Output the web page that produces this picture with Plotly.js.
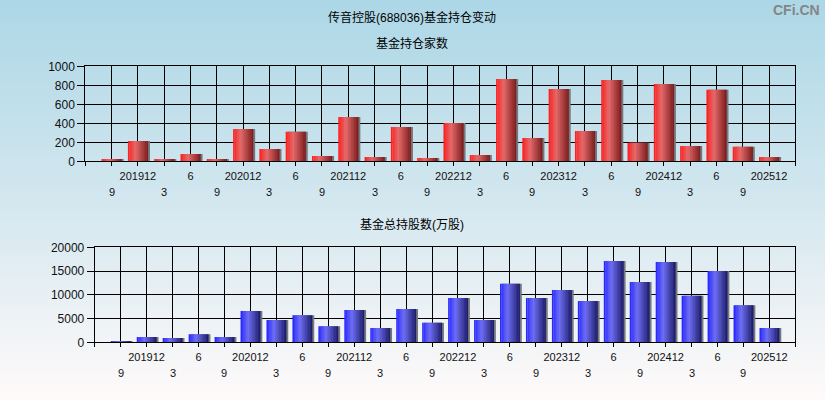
<!DOCTYPE html>
<html><head><meta charset="utf-8">
<script src="https://cdn.plot.ly/plotly-3.0.1.min.js"></script>
<style>
html,body{margin:0;padding:0;}
body{width:825px;height:400px;overflow:hidden;background:linear-gradient(to bottom,#acd7e6 0%,#d3e7ef 50%,#fffafa 100%);}
#chart{width:825px;height:400px;}
</style></head><body><div id="chart"></div>
<script>
// ---- data ----
const periods = ['201909','201912','202003','202006','202009','202012','202103','202106','202109','202112','202203','202206','202209','202212','202303','202306','202309','202312','202403','202406','202409','202412','202503','202506','202509','202512'];
const fundCount = [25, 215, 25, 78, 25, 340, 130, 310, 57, 467, 46, 362, 36, 404, 67, 867, 246, 762, 320, 857, 194, 815, 162, 752, 152, 46];
const fundShares = [250, 1100, 900, 1700, 1100, 6600, 4700, 5700, 3400, 6800, 3000, 7000, 4100, 9300, 4700, 12300, 9300, 11000, 8700, 17100, 12700, 16900, 9800, 15000, 7800, 3000];
const upperLabels = ['', '201912', '', '6', '', '202012', '', '6', '', '202112', '', '6', '', '202212', '', '6', '', '202312', '', '6', '', '202412', '', '6', '', '202512'];
const lowerLabels = ['9', '', '3', '', '9', '', '3', '', '9', '', '3', '', '9', '', '3', '', '9', '', '3', '', '9', '', '3', '', '9', ''];
const mainTitle = '传音控股(688036)基金持仓变动';
const topTitle = '基金持仓家数';
const bottomTitle = '基金总持股数(万股)';

// ---- styling ----
const FONT = '"Liberation Sans", Arial, "Noto Sans CJK SC", sans-serif';
const W = 825, H = 400;
const pos = periods.map((p, i) => i + 1);
const tickvals = [0].concat(pos, [periods.length + 1]);
const ticktext = [''].concat(upperLabels, ['']);

const redStops = [[0, [255, 25, 25]], [0.38, [236, 105, 105]], [1, [125, 25, 25]]];
const blueStops = [[0, [35, 35, 255]], [0.38, [110, 110, 252]], [1, [25, 25, 105]]];
function grad(stops, t) {
  for (let k = 0; k < stops.length - 1; k++) {
    const a = stops[k], b = stops[k + 1];
    if (t <= b[0]) {
      const f = (t - a[0]) / (b[0] - a[0]);
      const c = a[1].map((v, j) => Math.round(v + (b[1][j] - v) * f));
      return 'rgb(' + c.join(',') + ')';
    }
  }
  return 'rgb(' + stops[stops.length - 1][1].join(',') + ')';
}

const BW = 0.76, N = 14;
function barTraces(values, stops, xa, ya) {
  const tr = [];
  tr.push({type: 'bar', x: pos, y: values, xaxis: xa, yaxis: ya, width: BW, offset: -BW / 2 + 0.08,
    marker: {color: 'rgb(118,120,128)', line: {width: 0}}, hoverinfo: 'skip'});
  const sw = BW / N;
  for (let i = 0; i < N; i++) {
    tr.push({type: 'bar', x: pos, y: values, xaxis: xa, yaxis: ya, width: sw * 1.15, offset: -BW / 2 + i * sw,
      marker: {color: grad(stops, (i + 0.5) / N), line: {width: 0}}, hoverinfo: 'skip'});
  }
  return tr;
}

const data = barTraces(fundCount, redStops, 'x', 'y').concat(barTraces(fundShares, blueStops, 'x2', 'y2'));

function xAxis(domain, anchor) {
  return {domain: domain, anchor: anchor, range: [0, periods.length + 1], tickmode: 'array', tickvals: tickvals, ticktext: ticktext,
    ticks: 'outside', ticklen: 4, tickcolor: '#000', showgrid: true, gridcolor: '#000', gridwidth: 1,
    showline: true, linecolor: '#000', linewidth: 1, mirror: true, zeroline: false,
    tickfont: {family: FONT, size: 11, color: '#111'}, fixedrange: true};
}
function yAxis(domain, anchor, max, dtick) {
  return {domain: domain, anchor: anchor, range: [0, max], tickmode: 'linear', tick0: 0, dtick: dtick, tickformat: 'd',
    ticks: 'outside', ticklen: 7, tickcolor: '#000', showgrid: true, gridcolor: '#000', gridwidth: 1,
    showline: true, linecolor: '#000', linewidth: 1, mirror: true, zeroline: false,
    tickfont: {family: FONT, size: 12, color: '#111'}, fixedrange: true};
}

const annotations = [
  {text: mainTitle, x: 411.5 / W, y: 1 - 17.5 / H, xref: 'paper', yref: 'paper', showarrow: false, xanchor: 'center', yanchor: 'middle', font: {family: FONT, size: 12, color: '#000'}},
  {text: topTitle, x: 411.5 / W, y: 1 - 43.3 / H, xref: 'paper', yref: 'paper', showarrow: false, xanchor: 'center', yanchor: 'middle', font: {family: FONT, size: 12, color: '#000'}},
  {text: bottomTitle, x: 411.5 / W, y: 1 - 224 / H, xref: 'paper', yref: 'paper', showarrow: false, xanchor: 'center', yanchor: 'middle', font: {family: FONT, size: 12, color: '#000'}},
  {text: '<b>CFi.CN</b>', x: 822 / W, y: 1 - 10 / H, xref: 'paper', yref: 'paper', showarrow: false, xanchor: 'right', yanchor: 'middle', font: {family: FONT, size: 14, color: '#858585'}}
];
lowerLabels.forEach((t, i) => {
  if (!t) return;
  annotations.push({text: t, x: pos[i], xref: 'x', y: 1 - 192.3 / H, yref: 'paper', showarrow: false, xanchor: 'center', yanchor: 'middle', font: {family: FONT, size: 11, color: '#111'}});
  annotations.push({text: t, x: pos[i], xref: 'x2', y: 1 - 373 / H, yref: 'paper', showarrow: false, xanchor: 'center', yanchor: 'middle', font: {family: FONT, size: 11, color: '#111'}});
});

const layout = {
  width: W, height: H, autosize: false,
  margin: {l: 0, r: 0, t: 0, b: 0, pad: 0},
  paper_bgcolor: 'rgba(0,0,0,0)', plot_bgcolor: 'rgba(0,0,0,0)',
  showlegend: false, barmode: 'overlay', hovermode: false,
  xaxis: xAxis([85.3 / W, 795.3 / W], 'y'),
  yaxis: yAxis([1 - 161.3 / H, 1 - 66.3 / H], 'x', 1000, 200),
  xaxis2: xAxis([94.7 / W, 795.3 / W], 'y2'),
  yaxis2: yAxis([1 - 342.3 / H, 1 - 247.3 / H], 'x2', 20000, 5000),
  annotations: annotations
};

Plotly.newPlot('chart', data, layout, {staticPlot: true, displayModeBar: false});
</script></body></html>
